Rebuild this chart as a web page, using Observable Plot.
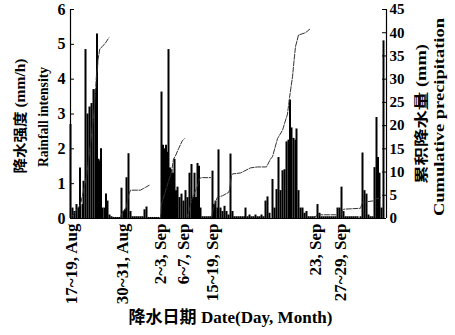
<!DOCTYPE html>
<html><head><meta charset="utf-8">
<script src="https://cdn.jsdelivr.net/npm/d3@7"></script>
<script src="https://cdn.jsdelivr.net/npm/@observablehq/plot@0.6"></script>
<style>html,body{margin:0;padding:0;background:#fff} svg{display:block}</style>
</head><body><div id="chart"></div>
<script>
// Rainfall intensity bars: position along the time axis (0..316) and intensity (mm/h)
const barX = [0,2,4,6,8,9.5,12,13,15,17,19,21,23,25,26.5,28,29.5,30.5,32,34,35.5,37,39,41,43,45,47,49,
  51,53,54.5,56,58,60,62,64,66,68,70,72,74,76,78,80,82,84,86,88,
  91,92.5,94,95.5,97,98,99.5,101,102.5,104,105.5,107,109,111,113,115,117,119,121,122.5,124,125.5,127,128.5,130,
  132,134,136,138,140,142,143.5,145,147,148,150,152,154,156,158,160,162,164,166,168,170,172,174,175,177,179,181,183,185,187,189,191,193,
  195,197,199,202,204,206,208,210,212,214,216,218,219.5,221,223,225,226,228,230,232,234,236,238,240,242,244,247,249,
  251,253,255,257,259,261,263,265,267,269,271,273,275,277,279,281,283,285,287,290,292,294,296,298,300,302,304,306,307.5,309,311,313];
const barV = [2.7,0.3,0.2,0.4,0.3,1.45,0.4,1.07,4.85,3.0,3.2,3.3,3.7,3.7,5.3,1.7,1.65,2.0,0.3,0.3,0.7,0.5,0.1,0.05,0.03,0.03,0.03,0.03,
  0.87,0.2,0.25,1.17,1.86,0.2,0.05,0.05,0.05,0.05,0.05,0.05,0.25,0.33,0.03,0.03,0.03,0.03,0.03,0.03,
  3.63,2.1,2.0,2.1,1.9,4.85,1.45,1.4,1.3,1.7,0.8,0.9,0.6,0.7,0.5,0.8,0.6,1.3,1.55,0.6,1.3,0.6,1.58,1.5,0.3,
  0.05,0.05,0.05,0.05,0.05,1.36,0.4,0.5,0.3,1.97,0.3,0.2,0.35,0.2,0.1,1.85,0.2,0.05,0.05,0.05,0.05,0.05,0.05,0.3,0.05,0.1,0.05,0.05,0.1,0.05,0.05,0.1,0.05,
  0.5,0.62,0.15,1.12,0.3,0.83,1.75,0.8,1.37,1.4,2.2,2.25,3.4,2.6,2.3,2.25,2.57,0.8,0.3,0.3,0.15,0.2,0.05,0.05,0.05,0.05,0.4,0.15,
  0.05,0.05,0.05,0.05,0.05,0.05,0.05,0.05,0.3,0.3,0.9,0.2,0.05,0.05,0.05,0.05,0.05,0.05,0.05,0.05,1.88,0.8,0.7,0.1,0.05,0.05,1.46,2.9,1.75,1.3,0.3,5.1];

// Cumulative precipitation (mm), one curve per rain event: [position, value]
const cumAug17 = [[0,0],[10,3],[16,9],[20,16],[24,24],[26,31],[27,32.4],[27.6,34.3],[29.3,36.5],[31.7,37],[35,37.8],[38.3,38.9]];
const cumAug30 = [[50,0],[51,1],[56,2.5],[58,5],[60,6.1],[70,6.1],[75,6.7],[79,7.2]];
const cumSep2  = [[90,0],[91,3],[98,8],[101,10],[103,12.8],[105,13.5],[108,15],[111.7,16.7],[114,17.2]];
const cumSep6  = [[116,0],[119,2],[121,4],[124,5.5],[127,7],[129,8.6],[131,8.8],[140,8.8]];
const cumSep15 = [[141,0],[143,2.5],[147,4.6],[152,4.9],[158,5.6],[159,6.1],[161,9.3],[162,9.6],[170,9.8],[180,10.9],[187,11.1],[196,11.1],
  [200,12.8],[202,13.3],[207,17.2],[212,19],[217,22.5],[219,26],[222,30.5],[223.5,33.9],[225,37],[228,39.5],[235,40],[240,40.9]];
const cumSep23 = [[242,0],[246,0.6],[250,0.8],[266,0.8]];
const cumSep27 = [[270,0],[271,1.5],[273,2],[290,2.2],[292,3.5],[303,3.8],[305,4.2],[310,4.5]];

const dateLabels = ["17~19, Aug","30~31, Aug","2~3, Sep","6~7, Sep","15~19, Sep","23, Sep","27~29, Sep"];
const dateTickX = [1,52,90,113,142,245,270];
const leftTicks = [0,1,2,3,4,5,6];
const rightTicks = [0,5,10,15,20,25,30,35,40,45];

const titleLeftCN = "降水强度 (mm/h)";
const titleLeftEN = "Rainfall intensity";
const titleRightCN = "累积降水量 (mm)";
const titleRightEN = "Cumulative precipitation";
const titleX = "降水日期 Date(Day, Month)";

const bars = barX.map((x,i)=>({x, v: barV[i]}));
const cumAll = [];
[cumAug17,cumAug30,cumSep2,cumSep6,cumSep15,cumSep23,cumSep27].forEach((ev,e)=>ev.forEach(([x,v])=>cumAll.push({event:e,x,v})));
const k = 6/45;

const serif = "Liberation Serif, Times New Roman, Noto Sans CJK SC, serif";
const chart = Plot.plot({
  width: 455, height: 335,
  marginLeft: 70, marginRight: 69, marginTop: 9, marginBottom: 117,
  x: {domain: [0,316]},
  y: {domain: [0,6]},
  style: {fontFamily: serif, fontWeight: "bold", fontSize: "15px", color: "#000", background: "#fff"},
  marks: [
    Plot.ruleX(bars, {x: "x", y1: 0, y2: "v", stroke: "#000", strokeWidth: 2}),
    Plot.line(cumAll, {x: "x", y: d => d.v*k, z: "event", stroke: "#333", strokeWidth: 1, strokeDasharray: "5,1.5"}),
    Plot.ruleX([0,316], {stroke: "#000", strokeWidth: 1.2}),
    Plot.ruleY([0], {stroke: "#000", strokeWidth: 1.2}),
    Plot.tickY(leftTicks, {y: d => d, insetRight: 312, stroke: "#000"}),
    Plot.tickY(rightTicks, {y: d => d*k, insetLeft: 312, stroke: "#000"}),
    Plot.axisY({anchor: "left", ticks: leftTicks, tickFormat: d => String(d), tickSize: 0, tickPadding: 5, label: null, fontSize: 16}),
    Plot.axisY({anchor: "right", ticks: rightTicks.map(d => d*k), tickFormat: d => String(Math.round(d/k)), tickSize: 0, tickPadding: 3, label: null, fontSize: 15}),
    Plot.axisX({ticks: dateTickX, tickFormat: d => dateLabels[dateTickX.indexOf(d)], tickRotate: -90, tickSize: 0, tickPadding: 5, label: null, fontSize: 17}),
    Plot.text([titleLeftCN], {frameAnchor: "left", textAnchor: "middle", dx: -50, dy: 2, rotate: -90, fontSize: 14, fontWeight: "bold"}),
    Plot.text([titleLeftEN], {frameAnchor: "left", textAnchor: "middle", dx: -27, dy: 3, rotate: -90, fontSize: 14, fontWeight: "bold"}),
    Plot.text([titleRightCN], {frameAnchor: "right", textAnchor: "middle", dx: 35, rotate: -90, fontSize: 14, fontWeight: "bold"}),
    Plot.text([titleRightEN], {frameAnchor: "right", textAnchor: "middle", dx: 53, dy: 3, rotate: -90, fontSize: 15, fontWeight: "bold"}),
    Plot.text([titleX], {frameAnchor: "bottom", dx: 2, dy: 104, fontSize: 17, fontWeight: "bold"})
  ]
});
// stretch titles along their baseline to match the reference extents
const stretch = {[titleLeftCN]: 115, [titleLeftEN]: 100, [titleRightCN]: 140, [titleRightEN]: 198, [titleX]: 204};
d3.select(chart).selectAll("text").each(function() {
  const L = stretch[this.textContent];
  if (L) { this.setAttribute("textLength", L); this.setAttribute("lengthAdjust", "spacingAndGlyphs"); }
});
document.getElementById("chart").appendChild(chart);
</script>
</body></html>
